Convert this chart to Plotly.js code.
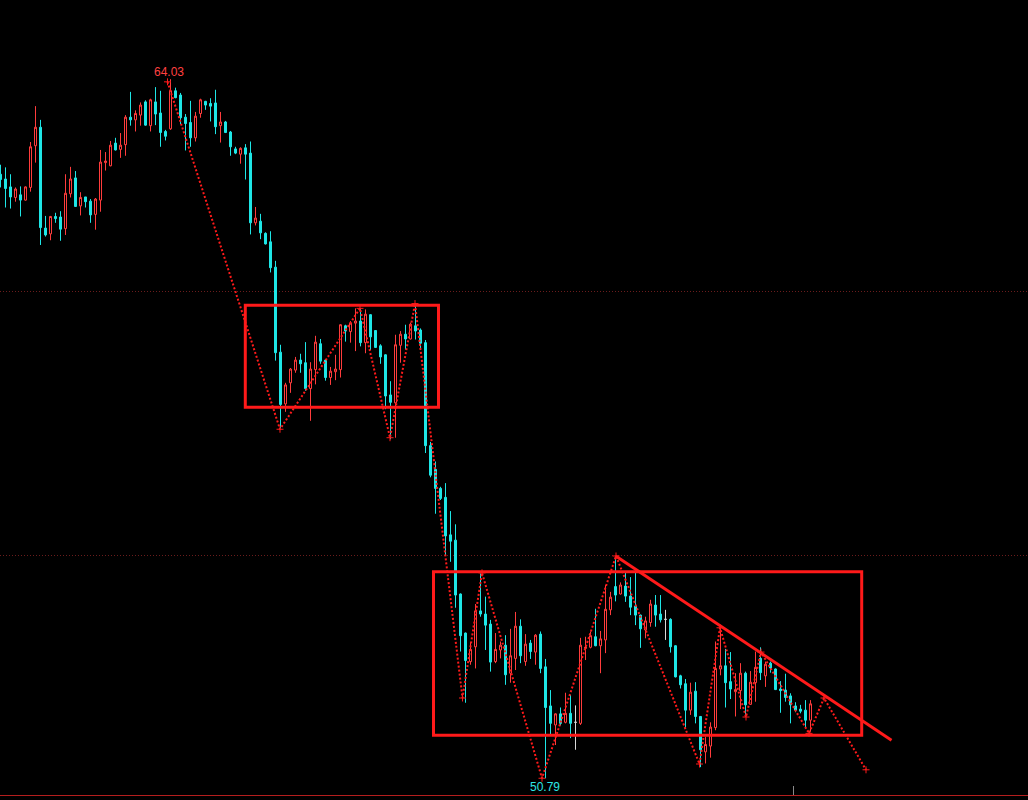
<!DOCTYPE html>
<html>
<head>
<meta charset="utf-8">
<script src="https://cdn.plot.ly/plotly-3.0.1.min.js"></script>
<style>
html,body{margin:0;padding:0;background:#000;overflow:hidden;}
#chart{width:1028px;height:800px;}
</style>
</head>
<body>
<div id="chart"></div>
<script>
// ---- candle data (index = bar number) ----
const openP = [62.23,62.14,61.99,61.79,61.84,61.74,61.98,62.77,63.12,61.21,61.10,61.43,61.42,61.20,61.86,62.16,61.63,61.80,61.72,61.47,
61.74,62.45,62.39,62.82,62.70,62.79,63.31,63.26,63.35,63.60,63.15,63.60,63.39,63.04,63.09,63.81,63.73,63.31,63.21,62.92,
63.38,63.61,63.57,63.58,63.15,63.22,63.03,62.71,62.61,62.73,62.63,61.31,61.34,61.11,60.95,60.47,58.86,57.88,58.28,58.52,
58.71,58.66,58.17,58.53,59.02,58.71,58.38,58.49,58.53,59.36,59.25,59.41,59.45,59.04,59.57,59.27,58.98,58.81,58.05,57.90,
58.99,59.20,59.11,59.36,59.28,59.04,57.09,56.64,56.28,56.11,55.40,55.30,54.28,53.54,53.00,53.28,53.96,53.90,53.71,53.00,
53.22,53.31,52.78,53.06,53.67,53.00,53.35,53.18,53.52,52.90,52.16,51.80,52.01,51.85,52.02,51.85,51.83,53.25,53.27,53.47,
53.30,53.41,53.98,54.42,54.28,54.43,54.24,54.05,53.88,53.60,53.74,54.07,53.90,53.80,53.80,53.30,52.73,52.58,52.08,52.44,
51.96,51.29,51.40,51.75,52.86,52.92,52.62,52.43,52.45,52.78,52.19,52.60,53.06,52.73,52.97,52.86,52.48,52.46,52.35,52.16,
52.10,52.08,51.89];
const highP = [62.41,62.36,62.23,61.98,62.00,62.00,62.84,63.52,63.26,61.44,61.44,61.50,61.53,62.23,62.37,62.29,61.89,61.80,61.76,61.78,
62.69,62.65,62.86,62.92,63.01,63.35,63.79,63.44,63.59,63.63,63.66,63.88,63.81,63.07,64.03,63.87,63.77,63.37,63.62,63.41,
63.66,63.62,63.67,63.83,63.41,63.24,63.05,62.75,62.74,62.80,62.85,61.61,61.48,61.13,61.15,60.59,59.00,58.28,58.56,58.77,
58.83,59.05,58.67,59.17,59.11,58.73,58.58,58.81,59.39,59.38,59.45,59.69,59.69,59.67,59.58,59.28,59.01,58.82,58.31,59.19,
59.26,59.38,59.42,59.79,59.31,59.09,57.16,56.79,56.31,56.38,55.85,55.60,54.29,53.55,53.37,54.09,54.67,54.23,53.79,53.54,
53.38,53.50,53.62,53.94,53.80,53.52,53.41,53.52,53.57,53.05,52.46,52.02,52.13,52.41,52.37,52.17,53.45,53.47,53.57,54.00,
53.58,54.45,54.32,54.99,54.50,54.68,54.60,54.68,53.89,53.85,54.17,54.26,54.26,53.98,53.82,53.31,52.75,52.67,52.60,52.61,
51.97,51.58,51.85,53.38,53.66,53.24,53.18,52.78,52.97,52.81,52.82,53.19,53.27,53.00,53.00,52.87,52.63,52.77,52.40,52.23,
52.18,52.27,52.27];
const lowP = [61.98,61.60,61.58,61.71,61.43,61.73,61.90,62.45,60.89,61.05,60.98,61.31,60.97,61.08,61.79,61.61,61.45,61.60,61.31,61.18,
61.52,62.30,62.38,62.68,62.54,62.58,63.15,63.04,63.15,63.15,63.04,63.16,62.75,62.87,63.07,63.67,63.18,62.68,62.75,62.85,
63.30,63.45,63.23,62.99,62.83,63.01,62.58,62.61,62.43,62.13,61.09,61.26,61.00,60.90,60.37,58.70,57.42,57.73,58.09,58.47,
58.47,58.13,57.56,58.25,58.64,58.32,58.24,58.33,58.38,59.06,59.04,58.88,58.97,58.84,58.90,58.94,58.64,57.78,57.21,57.24,
58.66,58.91,59.10,59.10,58.90,56.95,56.49,55.80,56.06,55.02,54.89,54.02,53.19,52.22,52.94,52.87,53.85,53.22,52.81,52.97,
53.06,52.56,52.60,52.84,52.97,52.92,53.05,52.94,52.78,50.79,51.61,51.42,51.79,51.83,51.55,51.33,51.80,53.03,53.25,53.29,
52.78,53.16,53.88,54.14,54.27,54.13,53.88,53.69,53.26,53.44,53.66,53.66,53.74,53.41,53.17,52.70,52.49,51.74,51.99,51.83,
51.00,51.07,51.18,51.70,52.74,52.13,52.29,51.96,52.10,51.95,52.18,52.24,52.65,52.52,52.79,52.46,52.03,52.24,51.83,52.04,
52.02,51.76,51.67];
const closeP = [62.13,61.96,61.80,61.95,61.74,61.99,62.75,63.12,61.22,61.08,61.43,61.39,61.19,61.87,62.14,61.62,61.79,61.71,61.46,61.76,
62.46,62.48,62.78,62.69,62.78,63.31,63.26,63.38,63.54,63.16,63.64,63.37,63.02,62.95,63.81,63.68,63.30,63.19,62.92,63.33,
63.64,63.54,63.52,63.13,63.22,63.02,62.75,62.63,62.72,62.61,61.31,61.40,61.12,60.91,60.46,58.85,57.87,58.24,58.54,58.71,
58.64,58.17,58.54,59.05,58.69,58.38,58.50,58.54,59.38,59.26,59.41,59.45,59.04,59.58,59.15,58.95,58.77,58.03,57.91,59.00,
59.20,59.11,59.39,59.26,59.03,57.09,56.53,56.28,56.09,55.38,55.28,54.26,53.49,53.02,53.23,53.96,53.90,53.69,52.99,53.23,
53.31,52.75,53.11,53.67,53.11,53.33,53.19,53.50,52.87,52.13,51.83,52.01,51.83,52.02,51.83,51.85,53.31,53.27,53.49,53.30,
53.43,53.99,54.22,54.26,54.45,54.24,54.03,53.88,53.62,53.77,54.09,53.88,53.79,53.80,53.28,52.71,52.56,52.08,52.42,51.96,
51.33,51.43,51.76,52.87,52.92,52.60,52.48,52.47,52.78,52.18,52.61,52.89,52.79,52.95,52.88,52.47,52.45,52.32,52.18,52.08,
52.06,51.89,52.20];

// ---- drawn annotations (bar index, price) ----
const zigzagX = [33.4,55.9,71.9,77.9,82.9,92.4,96.3,108.3,123.1,139.8,143.9,149.1,152.1,161.7,164.7,173.1];
const zigzagY = [63.98,57.40,59.69,57.24,59.78,52.31,54.68,50.79,55.00,51.06,53.64,51.95,53.18,51.64,52.31,50.95];
const box1 = {x0:48.96, x1:87.6, y0:57.816, y1:59.748};
const box2 = {x0:86.6, x1:172.24, y0:51.604, y1:54.70};
const trendX = [123.04, 178.2];
const trendY = [55.00, 51.51];
const gridLevels = [55, 60];
const markerTick = [158.5];

// ---- colours ----
const UP = '#ff3c3c', DOWN = '#1ee6e6', DOJI = '#d8d8d8', MARK = '#ff1a1a';

const idx = openP.map((_, i) => i);
function pick(filter){
  const s = {x:[],open:[],high:[],low:[],close:[]};
  idx.forEach(i => { if(filter(i)){ s.x.push(i); s.open.push(openP[i]); s.high.push(highP[i]); s.low.push(lowP[i]); s.close.push(closeP[i]); } });
  return s;
}
const upS = pick(i => closeP[i] > openP[i]);
const dnS = pick(i => closeP[i] < openP[i]);
const djS = pick(i => closeP[i] === openP[i]);

function candle(s, lc, fc){
  return Object.assign({type:'candlestick', hoverinfo:'skip', showlegend:false, whiskerwidth:0,
    increasing:{line:{color:lc,width:1}, fillcolor:fc},
    decreasing:{line:{color:lc,width:1}, fillcolor:fc}}, s);
}

const traces = [
  candle(upS, UP, '#000000'),
  candle(dnS, DOWN, DOWN),
  candle(djS, DOJI, DOJI),
  {type:'scatter', mode:'lines+markers', x:zigzagX, y:zigzagY, hoverinfo:'skip', showlegend:false,
   line:{color:MARK, width:2, dash:'2px,2px'},
   marker:{symbol:'cross-thin', size:5, line:{color:MARK, width:1}, color:MARK}}
];

let hiI = 0, loI = 0;
idx.forEach(i => { if(highP[i] > highP[hiI]) hiI = i; if(lowP[i] < lowP[loI]) loI = i; });

const layout = {
  width:1028, height:800,
  margin:{l:0, r:0, t:0, b:5, pad:0},
  paper_bgcolor:'#000', plot_bgcolor:'#000',
  boxgap:0.6, boxgroupgap:0,
  xaxis:{range:[-0.1, 205.5], showgrid:false, zeroline:false, showline:true, linecolor:'#b41e1e', linewidth:1,
         ticks:'inside', tickvals:markerTick, ticklen:9, tickcolor:'#8a8a8a', tickwidth:1, showticklabels:false,
         rangeslider:{visible:false}, fixedrange:true},
  yaxis:{range:[50.473, 65.530], tickvals:gridLevels, showgrid:true, gridcolor:'#6a1c1c', gridwidth:1, griddash:'1px,2px',
         zeroline:false, showline:false, showticklabels:false, ticks:'', fixedrange:true},
  shapes:[
    {type:'rect', xref:'x', yref:'y', x0:box1.x0, x1:box1.x1, y0:box1.y0, y1:box1.y1, line:{color:MARK, width:3}},
    {type:'rect', xref:'x', yref:'y', x0:box2.x0, x1:box2.x1, y0:box2.y0, y1:box2.y1, line:{color:MARK, width:3}},
    {type:'line', xref:'x', yref:'y', x0:trendX[0], x1:trendX[1], y0:trendY[0], y1:trendY[1], line:{color:MARK, width:3}}
  ],
  annotations:[
    {x:hiI, y:highP[hiI], xref:'x', yref:'y', text:highP[hiI].toFixed(2), showarrow:false, yanchor:'bottom', yshift:-2, xshift:-2,
     font:{family:'Liberation Sans, Arial, sans-serif', size:12, color:'#ff4040'}},
    {x:loI, y:lowP[loI], xref:'x', yref:'y', text:lowP[loI].toFixed(2), showarrow:false, yanchor:'top', yshift:0, xshift:-1,
     font:{family:'Liberation Sans, Arial, sans-serif', size:12, color:'#2ee6e6'}}
  ]
};

Plotly.newPlot('chart', traces, layout, {displayModeBar:false, staticPlot:true});
</script>
</body>
</html>
